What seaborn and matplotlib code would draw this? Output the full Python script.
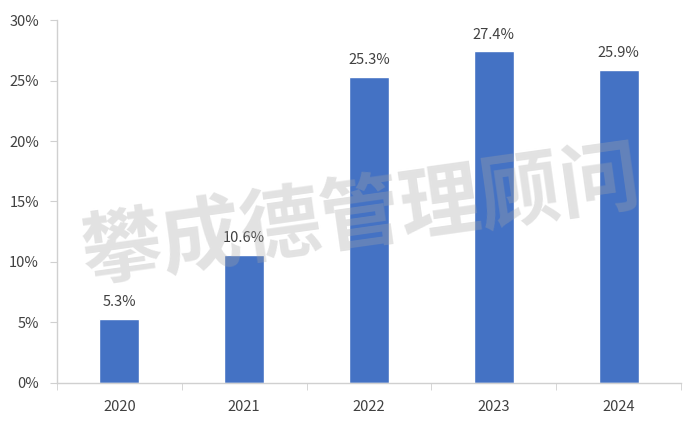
import numpy as np
import pandas as pd
import seaborn as sns
from matplotlib import pyplot as plt
from matplotlib.ticker import FuncFormatter, FixedLocator

# ---------- data ----------
years = ['2020', '2021', '2022', '2023', '2024']
shares = [5.3, 10.6, 25.3, 27.4, 25.9]
y_ticks = [0, 5, 10, 15, 20, 25, 30]
watermark = '攀成德管理顾问'

df = pd.DataFrame({'year': years, 'share': shares})

sns.set_style('white')
plt.rcParams['font.family'] = ['Noto Sans CJK SC', 'DejaVu Sans']

fig = plt.figure(figsize=(7, 4.26), dpi=100)
ax = fig.add_axes([0.0814, 0.101, 0.8916, 0.852])

sns.barplot(data=df, x='year', y='share', color='#4472C4', saturation=1,
            width=0.32, ax=ax, zorder=2)

# labels above bars
for i, v in enumerate(shares):
    ax.text(i, v + 0.8, f'{v:.1f}%', ha='center', va='bottom',
            fontsize=10.5, color='#404040')

ax.set_xlim(-0.5, len(years) - 0.5)
ax.set_ylim(0, 30)
ax.set_yticks(y_ticks)
ax.yaxis.set_major_formatter(FuncFormatter(lambda v, _: f'{v:.0f}%'))
ax.set_xlabel('')
ax.set_ylabel('')

# axis styling
for s in ['top', 'right']:
    ax.spines[s].set_visible(False)
for s in ['left', 'bottom']:
    ax.spines[s].set_color('#d0d0d0')
    ax.spines[s].set_linewidth(1)
ax.tick_params(axis='y', length=5, color='#d0d0d0', labelsize=10.5,
               labelcolor='#404040', pad=8, left=True)
ax.tick_params(axis='x', which='major', length=0, labelsize=10.5,
               labelcolor='#404040', pad=12)
ax.xaxis.set_minor_locator(FixedLocator(np.arange(-0.5, len(years), 1.0)))
ax.tick_params(axis='x', which='minor', length=5, color='#d0d0d0', bottom=True)

# watermark
fig.text(0.515, 0.49, watermark, fontsize=58, fontweight='bold',
         color='#a6a6a6', alpha=0.32, rotation=8, ha='center', va='center',
         zorder=10)

fig.savefig('out.png', dpi=100)
